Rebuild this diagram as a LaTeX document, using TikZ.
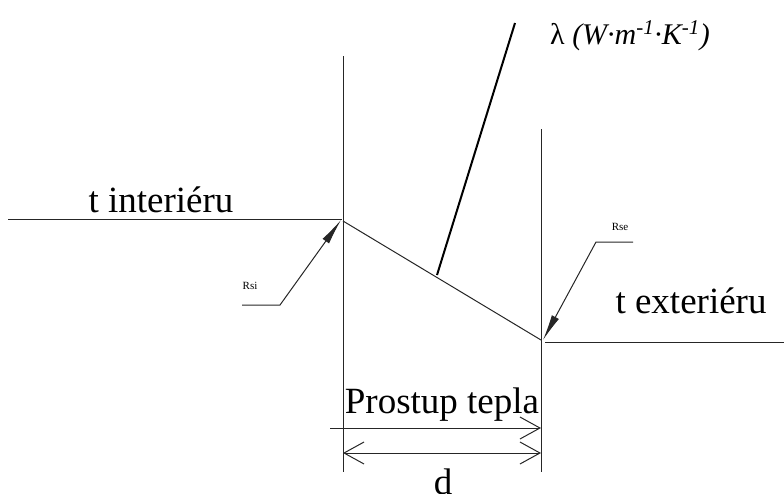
\documentclass[tikz,border=0pt]{standalone}
\usepackage{fontspec}
\setmainfont{Liberation Serif}
\usetikzlibrary{arrows.meta}
\begin{document}
\begin{tikzpicture}[x=1pt,y=-1pt,
  thin line/.style={line width=1pt,black!85},
  bigtext/.style={font=\fontsize{37}{40}\selectfont,inner sep=0pt,anchor=base},
  smalltext/.style={font=\fontsize{11}{12}\selectfont,inner sep=0pt,anchor=base},
  filltip/.style={-{Latex[length=26pt,width=8pt]}},
  opentip/.tip={Straight Barb[length=20pt,width=22pt]},
]
\useasboundingbox (0,0) rectangle (784,493);
% coordinates
\coordinate (LT) at (343,56);
\coordinate (LB) at (343,472);
\coordinate (RT) at (541,129);
\coordinate (RB) at (541,472);
\coordinate (IntS) at (8,219);
\coordinate (IntE) at (342,219);
\coordinate (ExtS) at (545,342);
\coordinate (ExtE) at (784,342);
\coordinate (WallTop) at (343,221);
\coordinate (WallBot) at (541,340);
\coordinate (LamA) at (437,275);
\coordinate (LamB) at (515,23);
\coordinate (RsiA) at (242,305);
\coordinate (RsiB) at (280,305);
\coordinate (RsiT) at (341,220);
\coordinate (RseA) at (633,242);
\coordinate (RseB) at (596,242);
\coordinate (RseT) at (543,340);
\coordinate (D1S) at (330,428);
\coordinate (D1E) at (541,428);
\coordinate (D2S) at (343,453);
\coordinate (D2E) at (541,453);
% walls
\draw[thin line] (LT) -- (LB);
\draw[thin line] (RT) -- (RB);
% temperature lines
\draw[thin line] (IntS) -- (IntE);
\draw[thin line] (ExtS) -- (ExtE);
\draw[thin line] (WallTop) -- (WallBot);
% lambda leader
\draw[line width=2pt] (LamA) -- (LamB);
% Rsi / Rse leaders
\draw[thin line,filltip] (RsiA) -- (RsiB) -- (RsiT);
\draw[thin line,filltip] (RseA) -- (RseB) -- (RseT);
% dimension lines
\draw[thin line,-opentip] (D1S) -- (D1E);
\draw[thin line,opentip-opentip] (D2S) -- (D2E);
% texts
\node[bigtext] (tint) at (161,212) {t interiéru};
\node[bigtext] (text) at (691,313) {t exteriéru};
\node[bigtext] (prost) at (442,413) {Prostup tepla};
\node[bigtext] (dlab) at (443,494) {d};
\node[font=\fontsize{30}{32}\selectfont,inner sep=0pt,anchor=base west] (lam) at (550,44) {λ \textit{(W·m\textsuperscript{-1}·K\textsuperscript{-1})}};
\node[smalltext] (rsi) at (250,289) {Rsi};
\node[smalltext] (rse) at (620,230) {Rse};
\end{tikzpicture}
\end{document}
